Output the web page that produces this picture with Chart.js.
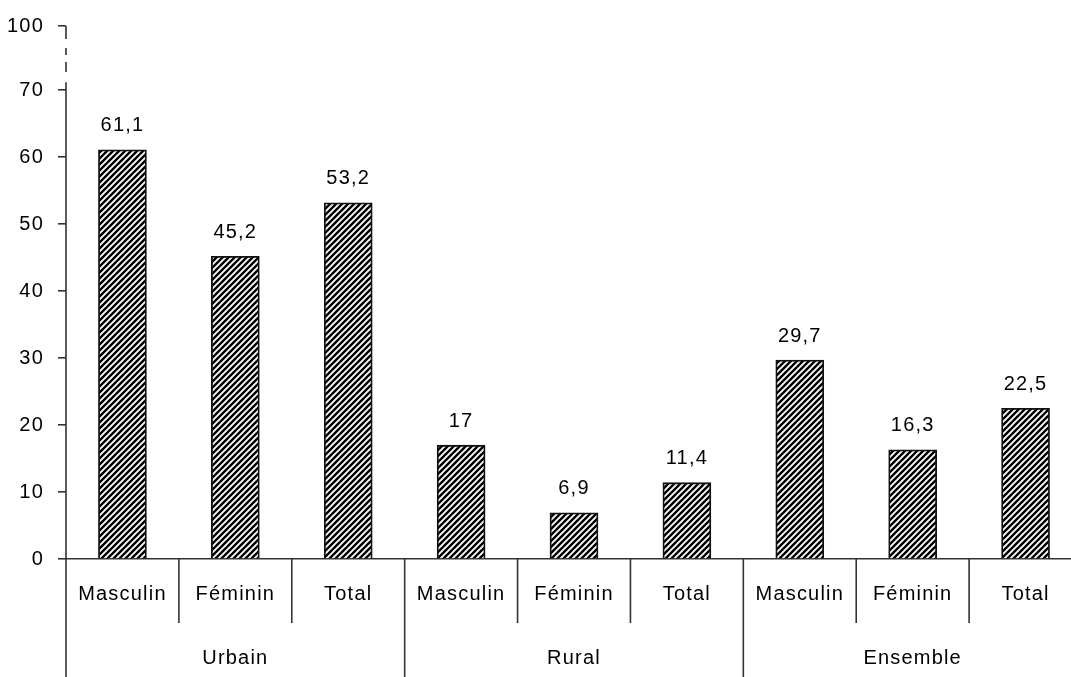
<!DOCTYPE html>
<html>
<head>
<meta charset="utf-8">
<script src="https://cdn.jsdelivr.net/npm/chart.js@4.4.0/dist/chart.umd.min.js"></script>
<style>
html, body { margin: 0; padding: 0; background: #fff; overflow: hidden; }
#wrap { width: 1086px; height: 677px; }
</style>
</head>
<body>
<div id="wrap"><canvas id="chart" width="1086" height="677"></canvas></div>
<script>
// data
const categories = ['Masculin', 'Féminin', 'Total', 'Masculin', 'Féminin', 'Total', 'Masculin', 'Féminin', 'Total'];
const groups = ['Urbain', 'Rural', 'Ensemble'];
const groupSizes = [3, 3, 3];
const values = [61.1, 45.2, 53.2, 17, 6.9, 11.4, 29.7, 16.3, 22.5];
const yTicks = [0, 10, 20, 30, 40, 50, 60, 70];
const yBreakValue = 79.6;   // where the broken axis shows "100"
const yBreakLabel = '100';

const textColor = '#000';
const lineColor = '#333';
const font = { family: 'Liberation Sans, Arial, sans-serif', size: 20 };

function makeHatch() {
    const s = 6;
    const c = document.createElement('canvas');
    c.width = s; c.height = s;
    const g = c.getContext('2d');
    g.fillStyle = '#fff';
    g.fillRect(0, 0, s, s);
    g.strokeStyle = '#000';
    g.lineWidth = 2.4;
    g.beginPath();
    g.moveTo(-1, s + 1); g.lineTo(s + 1, -1);
    g.moveTo(-1, 1); g.lineTo(1, -1);
    g.moveTo(s - 1, s + 1); g.lineTo(s + 1, s - 1);
    g.stroke();
    return g.createPattern(c, 'repeat');
}

const fmt = v => String(v).replace('.', ',');

// broken axis, separators, group labels, value labels
const decor = {
    id: 'decor',
    beforeDraw(chart) {
        chart.ctx.letterSpacing = '1.2px';
    },
    afterDraw(chart) {
        const { ctx, chartArea, scales: { x, y } } = chart;
        const ax = chartArea.left;
        const y0 = y.getPixelForValue(0);
        const y70 = y.getPixelForValue(yTicks[yTicks.length - 1]);
        const yTop = y.getPixelForValue(yBreakValue);

        ctx.save();
        ctx.strokeStyle = lineColor;
        ctx.lineWidth = 1.6;

        ctx.beginPath();
        ctx.moveTo(ax, chart.height);
        ctx.lineTo(ax, y70 - 8);
        ctx.stroke();

        ctx.setLineDash([13, 9, 7, 7, 10, 11]);
        ctx.beginPath();
        ctx.moveTo(ax, yTop);
        ctx.lineTo(ax, y70 - 8);
        ctx.stroke();
        ctx.setLineDash([]);

        // category separators
        const w = x.getPixelForValue(1) - x.getPixelForValue(0);
        const bounds = new Set([0]);
        let idx = 0;
        groupSizes.forEach(n => { idx += n; bounds.add(idx); });
        for (let i = 1; i <= categories.length; i++) {
            const px = x.getPixelForValue(0) - w / 2 + i * w;
            const bottom = bounds.has(i) ? chart.height : y0 + 64;
            ctx.beginPath();
            ctx.moveTo(px, y0);
            ctx.lineTo(px, bottom);
            ctx.stroke();
        }

        ctx.fillStyle = textColor;
        ctx.font = `${font.size}px ${font.family}`;
        ctx.textAlign = 'center';
        ctx.textBaseline = 'middle';

        let start = 0;
        groups.forEach((g, k) => {
            const n = groupSizes[k];
            const cx = (x.getPixelForValue(start) + x.getPixelForValue(start + n - 1)) / 2;
            ctx.fillText(g, cx, y0 + 99);
            start += n;
        });

        const meta = chart.getDatasetMeta(0);
        meta.data.forEach((bar, i) => {
            ctx.fillText(fmt(values[i]), bar.x, bar.y - 24);
        });
        ctx.restore();
    }
};

const ctx = document.getElementById('chart').getContext('2d');
new Chart(ctx, {
    type: 'bar',
    data: {
        labels: categories,
        datasets: [{
            data: values,
            backgroundColor: makeHatch(),
            borderColor: '#111',
            borderWidth: 1.8,
            barThickness: 48
        }]
    },
    options: {
        responsive: false,
        animation: false,
        layout: { padding: { top: 24, right: 4, left: 0, bottom: 0 } },
        plugins: {
            legend: { display: false },
            tooltip: { enabled: false }
        },
        scales: {
            x: {
                grid: { display: false, drawTicks: false },
                border: { display: true, color: lineColor, width: 1.6 },
                ticks: { color: textColor, font: font, padding: 23, maxRotation: 0, autoSkip: false },
                afterFit: s => { s.height = 118; }
            },
            y: {
                min: 0,
                max: yBreakValue,
                afterBuildTicks: s => { s.ticks = [...yTicks, yBreakValue].map(v => ({ value: v })); },
                ticks: {
                    color: textColor,
                    font: font,
                    padding: 14,
                    callback: v => v === yBreakValue ? yBreakLabel : v
                },
                grid: { drawOnChartArea: false, drawTicks: true, tickLength: 8, color: lineColor, lineWidth: 1.6 },
                border: { display: false },
                afterFit: s => { s.width = 66; }
            }
        }
    },
    plugins: [decor]
});
</script>
</body>
</html>
